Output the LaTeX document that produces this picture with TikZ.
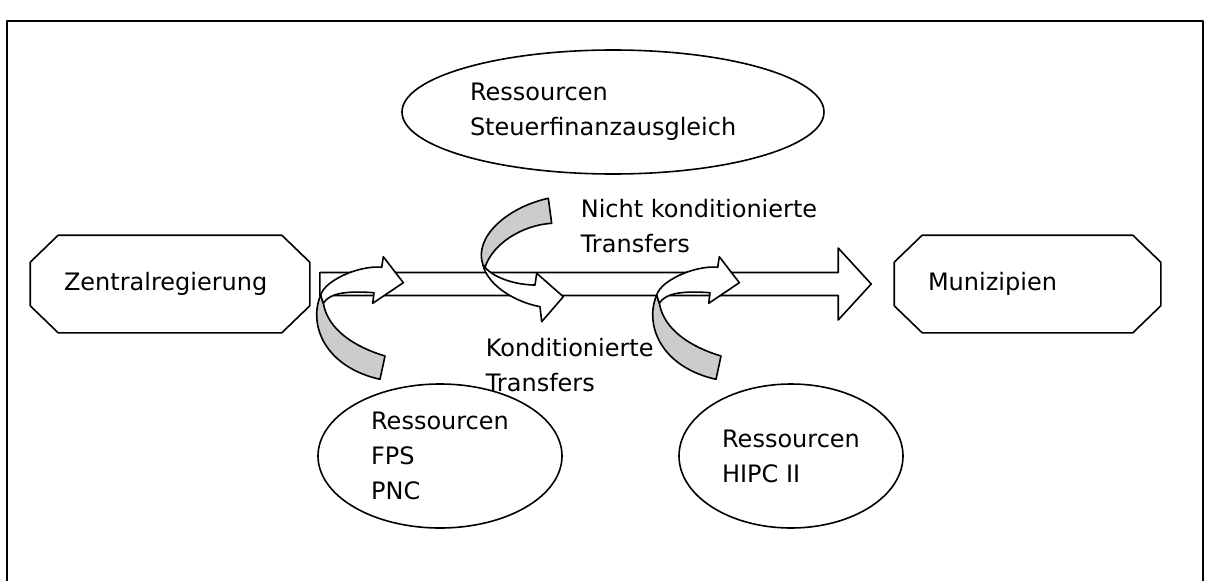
\documentclass[tikz,border=0pt]{standalone}
\usepackage{fontspec}
\setmainfont{DejaVu Sans}
\usetikzlibrary{shapes.geometric, calc}

% octagon frame round a named box node
\newcommand{\octaframe}[1]{%
  \draw ($(#1.north west)+(28,0)$) -- ($(#1.north east)+(-28,0)$) -- ($(#1.north east)+(0,27)$)
    -- ($(#1.south east)+(0,-27)$) -- ($(#1.south east)+(-28,0)$) -- ($(#1.south west)+(28,0)$)
    -- ($(#1.south west)+(0,-27)$) -- ($(#1.north west)+(0,27)$) -- cycle;}

\tikzset{
  curvedup/.pic={
    \draw[backside] (0.7,0) .. controls (-12,30) and (5,72) .. (60,84.3) -- (65,61)
      .. controls (35,52) and (8,35) .. (3.3,8.3) -- cycle;
    \draw[frontside] (0.7,0) .. controls (5,-15) and (40,-30) .. (61.7,-27.7) -- (63.3,-38.3)
      -- (83.3,-12.3) -- (52.7,8.3) -- (54,-2.3) .. controls (30,-4) and (10,-3) .. (3.3,8.3) -- cycle;
  },
  curveddown/.pic={
    \draw[backside] (0,0) .. controls (-10,-28) and (25,-58) .. (65.3,-66.7) -- (68.7,-41.7)
      .. controls (40,-40) and (10,-22) .. (2,2.3) -- cycle;
    \draw[frontside] (0,0) .. controls (4,18) and (28,36) .. (57,41.7) -- (58.7,56.7)
      -- (80.3,31.7) -- (53.7,8.3) -- (52,20) .. controls (35,20) and (12,14) .. (2,2.3) -- cycle;
  }
}

\begin{document}
\begin{tikzpicture}[x=1pt,y=-1pt,line width=1.6pt,line join=round,
    every node/.style={font=\fontsize{24}{35}\selectfont},
    octabox/.style={rectangle, inner xsep=33pt, inner ysep=0pt,
        minimum height=96pt, align=left},
    resource/.style={ellipse, draw, inner sep=0pt, align=left},
    flowtext/.style={anchor=north west, inner sep=0pt, align=left},
    backside/.style={draw, fill=gray!40},
    frontside/.style={draw, fill=white}]
  \useasboundingbox (0,0) rectangle (1207,581);
  \draw[line width=1.2pt] (7,581) -- (7,21) -- (1203,21) -- (1203,581);

  \node[octabox, text width=212pt] (zr) at (170,284) {Zentralregierung};
  \node[octabox, text width=199pt] (mu) at (1027.5,284) {Munizipien};
  \octaframe{zr}
  \octaframe{mu}

  \node[resource, minimum width=422pt, minimum height=124pt, text width=286pt] (steuer) at (613,112)
    {Ressourcen\\Steuerfinanzausgleich};
  \node[resource, minimum width=244pt, minimum height=144pt] (fps) at (440,456)
    {Ressourcen\\FPS\\PNC};
  \node[resource, minimum width=224pt, minimum height=144pt] (hipc) at (791,456)
    {Ressourcen\\HIPC II};

  \node[flowtext] (nkt) at (580,198.5) {Nicht konditionierte\\Transfers};
  \node[flowtext] (kt) at (485,337) {Konditionierte\\Transfers};

  % transfer flow
  \draw[frontside] ($(zr.east)+(10,-11.5)$) -- ($(mu.west)+(-56,-11.5)$) -- ($(mu.west)+(-56,-36)$)
    -- ($(mu.west)+(-23,0)$) -- ($(mu.west)+(-56,36)$) -- ($(mu.west)+(-56,11.5)$)
    -- ($(zr.east)+(10,11.5)$) -- cycle;

  % resources feeding in
  \pic at (320,295) {curvedup};
  \pic at (483,265) {curveddown};
  \pic at (656,295) {curvedup};
\end{tikzpicture}
\end{document}
